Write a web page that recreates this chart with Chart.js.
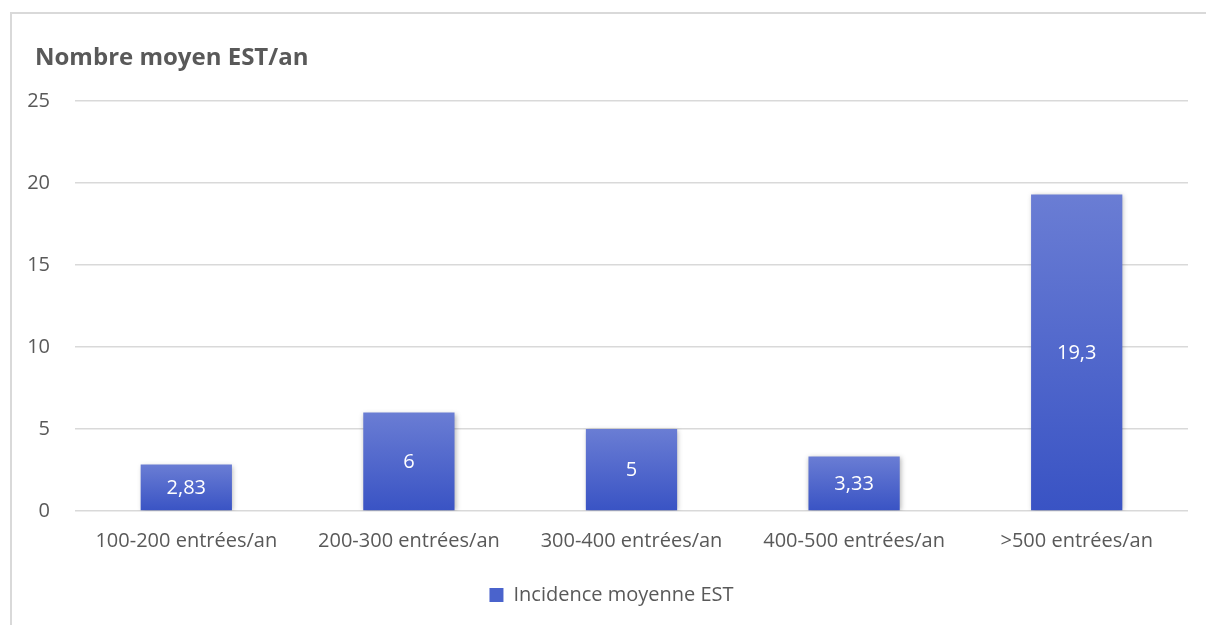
<!DOCTYPE html>
<html lang="fr">
<head>
<meta charset="UTF-8">
<title>Nombre moyen EST/an</title>
<script src="https://cdn.jsdelivr.net/npm/chart.js"></script>
<style>
  html, body {
    margin: 0;
    padding: 0;
    width: 1206px;
    height: 625px;
    overflow: hidden;
    background: #fff;
  }
  #frame {
    position: absolute;
    left: 10px;
    top: 12px;
    width: 1210px;
    height: 630px;
    border-left: 2px solid #d9d9d9;
    border-top: 2px solid #d9d9d9;
  }
  #wrap {
    position: absolute;
    left: 0;
    top: 0;
    width: 1206px;
    height: 625px;
  }
</style>
</head>
<body>
  <div id="frame"></div>
  <div id="wrap"><canvas id="chart"></canvas></div>
  <script>
    const categories = ['100-200 entrées/an', '200-300 entrées/an', '300-400 entrées/an', '400-500 entrées/an', '>500 entrées/an']
    const incidence = [2.83, 6, 5, 3.33, 19.3]
    const seriesName = 'Incidence moyenne EST'
    const chartTitle = 'Nombre moyen EST/an'

    const textColor = '#595959'
    const fontFamily = '"Open Sans", Lato, sans-serif'

    // each bar gets its own top-to-bottom gradient
    function barFill(context) {
      const chart = context.chart
      const y = chart.scales.y
      if (!y || context.type !== 'data') return '#4a63cc'
      const top = y.getPixelForValue(context.raw)
      const base = y.getPixelForValue(0)
      if (!isFinite(top) || !isFinite(base) || top === base) return '#4a63cc'
      const g = chart.ctx.createLinearGradient(0, top, 0, base)
      g.addColorStop(0, '#6a7dd4')
      g.addColorStop(1, '#3953c4')
      return g
    }

    const barShadow = {
      id: 'barShadow',
      beforeDatasetsDraw(chart) {
        const ctx = chart.ctx
        ctx.save()
        ctx.shadowColor = 'rgba(0,0,0,0.3)'
        ctx.shadowBlur = 5
        ctx.shadowOffsetX = 1
        ctx.shadowOffsetY = 1
      },
      afterDatasetsDraw(chart) {
        chart.ctx.restore()
      }
    }

    const valueLabels = {
      id: 'valueLabels',
      afterDatasetsDraw(chart) {
        const ctx = chart.ctx
        const meta = chart.getDatasetMeta(0)
        ctx.save()
        ctx.fillStyle = '#ffffff'
        ctx.font = '20px ' + fontFamily
        ctx.textAlign = 'center'
        ctx.textBaseline = 'middle'
        meta.data.forEach((bar, i) => {
          const txt = String(incidence[i]).replace('.', ',')
          ctx.fillText(txt, bar.x, (bar.y + bar.base) / 2 + 1)
        })
        ctx.restore()
      }
    }

    // y tick labels sit left of the title indent; widen the label clip box
    const yLabelRoom = {
      id: 'yLabelRoom',
      afterLayout(chart) {
        chart.scales.y.left = 0
      }
    }

    new Chart(document.getElementById('chart'), {
      type: 'bar',
      data: {
        labels: categories,
        datasets: [{
          label: seriesName,
          data: incidence,
          backgroundColor: barFill,
          borderWidth: 0,
          barPercentage: 0.41,
          categoryPercentage: 1
        }]
      },
      options: {
        responsive: true,
        maintainAspectRatio: false,
        animation: false,
        layout: {
          padding: { left: 35, right: 18, top: 12, bottom: 10 }
        },
        scales: {
          x: {
            grid: { display: false, drawTicks: false },
            border: { display: false },
            ticks: {
              color: textColor,
              font: { family: fontFamily, size: 20 },
              padding: 18,
              maxRotation: 0
            }
          },
          y: {
            min: 0,
            max: 25,
            afterFit(scale) { scale.width = 40 },
            grid: { color: '#d9d9d9', lineWidth: 1.5, drawTicks: false },
            border: { display: false },
            ticks: {
              stepSize: 5,
              color: textColor,
              font: { family: fontFamily, size: 20 },
              padding: 25
            }
          }
        },
        plugins: {
          title: {
            display: true,
            text: chartTitle,
            align: 'start',
            color: textColor,
            font: { family: fontFamily, size: 24, weight: 'bold' },
            padding: { top: 32, bottom: 28.2 }
          },
          legend: {
            position: 'bottom',
            labels: {
              color: textColor,
              font: { family: fontFamily, size: 20 },
              boxWidth: 14,
              boxHeight: 14,
              padding: 14,
              generateLabels() {
                return [{
                  text: seriesName,
                  fillStyle: '#4a63cc',
                  strokeStyle: '#4a63cc',
                  lineWidth: 0,
                  hidden: false,
                  datasetIndex: 0,
                  fontColor: textColor
                }]
              }
            }
          },
          tooltip: { enabled: false }
        }
      },
      plugins: [barShadow, valueLabels, yLabelRoom]
    })
  </script>
</body>
</html>
